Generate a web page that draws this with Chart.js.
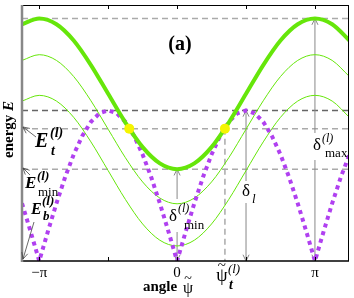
<!DOCTYPE html>
<html>
<head>
<meta charset="utf-8">
<script src="https://cdn.jsdelivr.net/npm/chart.js@4/dist/chart.umd.min.js"></script>
<style>
    html, body { margin: 0; padding: 0; background: white; }
    #chart { display: block; }
</style>
</head>
<body>
<canvas id="chart" width="354" height="298"></canvas>
<script>
// 角度 (単位: π) — 緑の曲線用
const angleCoarse = [-1.125, -1, -0.875, -0.75, -0.625, -0.5, -0.375, -0.25, -0.125, 0,
    0.125, 0.25, 0.375, 0.5, 0.625, 0.75, 0.875, 1, 1.125, 1.25];
// 太い緑 (エネルギー E)
const energyThick = [1.572, 1.61, 1.572, 1.464, 1.301, 1.11, 0.919, 0.756, 0.648, 0.61,
    0.648, 0.756, 0.919, 1.11, 1.301, 1.464, 1.572, 1.61, 1.572, 1.464];
// 細い緑 2本
const energyThin1 = [1.332, 1.37, 1.332, 1.225, 1.064, 0.875, 0.686, 0.525, 0.418, 0.38,
    0.418, 0.525, 0.686, 0.875, 1.064, 1.225, 1.332, 1.37, 1.332, 1.225];
const energyThin2 = [1.062, 1.10, 1.062, 0.954, 0.791, 0.60, 0.409, 0.246, 0.138, 0.10,
    0.138, 0.246, 0.409, 0.60, 0.791, 0.954, 1.062, 1.10, 1.062, 0.954];

// 紫の点線 (δ_l)
const angleFine = [-1.125, -1.0625, -1, -0.9375, -0.875, -0.8125, -0.75, -0.6875, -0.625, -0.5625,
    -0.5, -0.4375, -0.375, -0.3125, -0.25, -0.1875, -0.125, -0.0625, 0,
    0.0625, 0.125, 0.1875, 0.25, 0.3125, 0.375, 0.4375, 0.5, 0.5625, 0.625,
    0.6875, 0.75, 0.8125, 0.875, 0.9375, 1, 1.0625, 1.125, 1.1875, 1.25];
const deltaL = [0.383, 0.195, 0, 0.195, 0.383, 0.556, 0.707, 0.831, 0.924, 0.981,
    1, 0.981, 0.924, 0.831, 0.707, 0.556, 0.383, 0.195, 0,
    0.195, 0.383, 0.556, 0.707, 0.831, 0.924, 0.981, 1, 0.981, 0.924,
    0.831, 0.707, 0.556, 0.383, 0.195, 0, 0.195, 0.383, 0.556, 0.707];

// 交点 (黄色)
const crossAngles = [-0.347, 0.347];
const crossEnergy = [0.879, 0.879];

// 基準レベル
const levelMax = 1.61;   // δ_max
const levelDelta = 1.0;  // δ_l
const levelEt = 0.879;   // E_t
const levelEmin = 0.61;  // E_min
const psiT = 0.347;      // ψ_t

// 軸の目盛り
const tickValues = [-1, -0.5, 0, 0.5, 1];
const tickLabels = [
    { v: -1, text: '\u2212\u03c0' },
    { v: 0, text: '0' },
    { v: 1, text: '\u03c0' }
];

const toPoints = (xs, ys) => xs.map((x, i) => ({ x: x, y: ys[i] }));

const SERIF = '"Liberation Serif", "DejaVu Serif", serif';
const GREEN = '#66e60a';
const PURPLE = '#b040f0';

// 矢印の先 (開いた V 字)
function arrowHead(ctx, x1, y1, x2, y2) {
    const a = Math.atan2(y2 - y1, x2 - x1);
    const len = 7, w = 0.45;
    ctx.beginPath();
    ctx.moveTo(x2 - len * Math.cos(a - w), y2 - len * Math.sin(a - w));
    ctx.lineTo(x2, y2);
    ctx.lineTo(x2 - len * Math.cos(a + w), y2 - len * Math.sin(a + w));
    ctx.stroke();
}

function line(ctx, x1, y1, x2, y2) {
    ctx.beginPath();
    ctx.moveTo(x1, y1);
    ctx.lineTo(x2, y2);
    ctx.stroke();
}

function text(ctx, str, x, y, font, align) {
    ctx.font = font;
    ctx.textAlign = align || 'left';
    ctx.textBaseline = 'alphabetic';
    ctx.fillText(str, x, y);
}

// 縦の両矢印 (ラベル部分は空ける)
function vArrow(ctx, x, yTop, yBottom, gapTop, gapBottom) {
    line(ctx, x, yTop, x, gapTop);
    line(ctx, x, gapBottom, x, yBottom);
    arrowHead(ctx, x, yTop + 10, x, yTop);
    arrowHead(ctx, x, yBottom - 10, x, yBottom);
}

const decorPlugin = {
    id: 'decor',
    beforeDatasetsDraw(chart) {
        const { ctx, chartArea: ca, scales: { x, y } } = chart;
        ctx.save();
        ctx.lineWidth = 1.5;
        ctx.setLineDash([6, 4]);
        [[levelMax, '#aaaaaa'], [levelDelta, '#666666'], [levelEt, '#aaaaaa'], [levelEmin, '#aaaaaa']]
            .forEach(([v, c]) => {
                ctx.strokeStyle = c;
                line(ctx, ca.left, y.getPixelForValue(v), ca.right, y.getPixelForValue(v));
            });
        ctx.strokeStyle = '#aaaaaa';
        line(ctx, x.getPixelForValue(psiT), y.getPixelForValue(levelEt), x.getPixelForValue(psiT), ca.bottom);
        ctx.setLineDash([]);

        ctx.strokeStyle = '#888888';
        ctx.lineWidth = 1;
        // δ_l
        vArrow(ctx, x.getPixelForValue(0.5), y.getPixelForValue(levelDelta), ca.bottom, 181, 203);
        // δ_max
        vArrow(ctx, x.getPixelForValue(1), y.getPixelForValue(levelMax), ca.bottom, 133, 160);
        // δ_min
        vArrow(ctx, x.getPixelForValue(0), y.getPixelForValue(levelEmin), ca.bottom, 199, 232);
        ctx.restore();
    },
    afterDatasetsDraw(chart) {
        const { ctx, chartArea: ca, scales: { x, y } } = chart;
        ctx.save();
        // 枠
        ctx.strokeStyle = '#000';
        ctx.lineWidth = 1;
        line(ctx, ca.left, ca.top + 0.5, ca.right, ca.top + 0.5);
        line(ctx, ca.right - 0.5, ca.top, ca.right - 0.5, ca.bottom);
        ctx.lineWidth = 1.5;
        line(ctx, ca.left, ca.bottom, ca.right, ca.bottom);
        ctx.strokeStyle = '#888';
        ctx.lineWidth = 2.5;
        line(ctx, ca.left, ca.top, ca.left, ca.bottom + 1);

        // 目盛り (内向き)
        ctx.strokeStyle = '#000';
        ctx.lineWidth = 1;
        tickValues.forEach(v => {
            const px = Math.round(x.getPixelForValue(v)) + 0.5;
            line(ctx, px, ca.top, px, ca.top + 4);
            line(ctx, px, ca.bottom, px, ca.bottom - 4);
        });

        ctx.fillStyle = '#000';
        tickLabels.forEach(t => text(ctx, t.text, x.getPixelForValue(t.v), 277, '15px ' + SERIF, 'center'));

        // ψ_t ラベル
        const pt = x.getPixelForValue(psiT);
        text(ctx, '\u03c8', pt - 3, 281, '18px ' + SERIF, 'center');
        text(ctx, '~', pt - 3, 270, '15px ' + SERIF, 'center');
        text(ctx, '(l)', pt + 3, 273, 'italic 13px ' + SERIF);
        text(ctx, 't', pt + 4, 289, 'bold italic 14px ' + SERIF);

        // 軸タイトル
        text(ctx, 'angle', 143, 291, 'bold 15px ' + SERIF);
        text(ctx, '\u03c8', 188, 293, '16px ' + SERIF, 'center');
        text(ctx, '~', 188, 283, '14px ' + SERIF, 'center');

        ctx.save();
        ctx.translate(13, 158);
        ctx.rotate(-Math.PI / 2);
        ctx.font = 'bold 15px ' + SERIF;
        const w = ctx.measureText('energy ').width;
        text(ctx, 'energy ', 0, 0, 'bold 15px ' + SERIF);
        text(ctx, 'E', w, 0, 'bold italic 15px ' + SERIF);
        ctx.restore();

        // (a)
        text(ctx, '(a)', 180, 50, 'bold 20px ' + SERIF, 'center');

        // E_t
        text(ctx, 'E', 35, 147, 'bold italic 20px ' + SERIF);
        text(ctx, '(l)', 50, 137, 'bold italic 14px ' + SERIF);
        text(ctx, 't', 51, 155, 'bold italic 14px ' + SERIF);
        // E_min
        text(ctx, 'E', 25, 188, 'bold italic 17px ' + SERIF);
        text(ctx, '(l)', 37, 180, 'bold italic 13px ' + SERIF);
        text(ctx, 'min', 38, 196, '13px ' + SERIF);
        // E_b
        text(ctx, 'E', 31, 214, 'bold italic 16px ' + SERIF);
        text(ctx, '(l)', 42, 205, 'bold italic 13px ' + SERIF);
        text(ctx, 'b', 43, 220, 'bold italic 13px ' + SERIF);

        ctx.strokeStyle = '#444';
        ctx.lineWidth = 0.8;
        line(ctx, 36, 137, 23, 127); arrowHead(ctx, 36, 137, 23, 127);
        line(ctx, 30, 175, 23, 168); arrowHead(ctx, 30, 175, 23, 168);
        line(ctx, 34, 222, 23, 259); arrowHead(ctx, 34, 222, 23, 259);

        // δ ラベル
        text(ctx, '\u03b4', 242, 196, '17px ' + SERIF);
        text(ctx, 'l', 252, 203, 'italic 13px ' + SERIF);

        text(ctx, '\u03b4', 313, 150, '17px ' + SERIF);
        text(ctx, '(l)', 322, 142, 'italic 12px ' + SERIF);
        text(ctx, 'max', 325, 157, '13px ' + SERIF);

        text(ctx, '\u03b4', 169, 221, '17px ' + SERIF);
        text(ctx, '(l)', 178, 212, 'italic 12px ' + SERIF);
        text(ctx, 'min', 184, 229, '13px ' + SERIF);
        ctx.restore();
    }
};

new Chart(document.getElementById('chart').getContext('2d'), {
    type: 'line',
    data: {
        datasets: [
            {
                data: toPoints(crossAngles, crossEnergy),
                showLine: false,
                pointRadius: 5,
                pointBackgroundColor: '#f5f500',
                pointBorderWidth: 0
            },
            {
                data: toPoints(angleCoarse, energyThick),
                borderColor: GREEN,
                borderWidth: 4,
                cubicInterpolationMode: 'monotone',
                pointRadius: 0,
                clip: 0
            },
            {
                data: toPoints(angleFine, deltaL),
                borderColor: PURPLE,
                borderWidth: 4,
                borderDash: [4, 4],
                tension: 0,
                pointRadius: 0,
                clip: 0
            },
            {
                data: toPoints(angleCoarse, energyThin1),
                borderColor: GREEN,
                borderWidth: 1,
                cubicInterpolationMode: 'monotone',
                pointRadius: 0,
                clip: 0
            },
            {
                data: toPoints(angleCoarse, energyThin2),
                borderColor: GREEN,
                borderWidth: 1,
                cubicInterpolationMode: 'monotone',
                pointRadius: 0,
                clip: 0
            }
        ]
    },
    options: {
        responsive: false,
        animation: false,
        devicePixelRatio: 1,
        layout: { padding: { left: 22, right: 3, top: 2, bottom: 37 } },
        plugins: { legend: { display: false }, tooltip: { enabled: false } },
        scales: {
            x: { type: 'linear', display: false, min: -1.125, max: 1.247 },
            y: { type: 'linear', display: false, min: 0, max: 1.7 }
        }
    },
    plugins: [decorPlugin]
});
</script>
</body>
</html>
